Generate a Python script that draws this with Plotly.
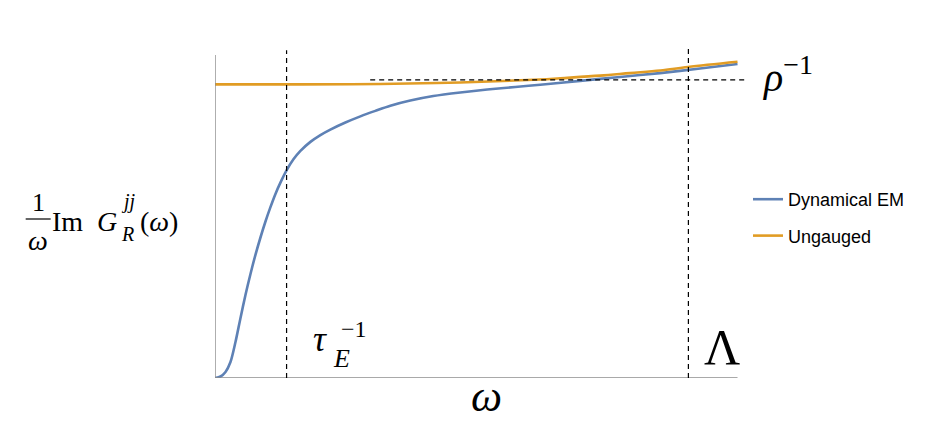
import plotly.graph_objects as go

# Schematic: (1/omega) Im G_R^jj(omega) against omega, dynamical EM vs ungauged.
# Values; omega in arbitrary units (axis end = 10).

omega_em = [0.0, 0.105, 0.201, 0.296, 0.392, 0.488, 0.583, 0.679, 0.774,
            0.870, 0.966, 1.061, 1.157, 1.252, 1.367, 1.501, 1.635, 1.826,
            2.017, 2.208, 2.495, 2.782, 3.069, 3.356, 3.738, 4.178, 4.694,
            5.210, 5.746, 6.224, 6.989, 7.753, 8.518, 9.283, 10.0]
resp_em = [0.0, 0.0046, 0.0186, 0.0495, 0.1115, 0.186, 0.257, 0.322, 0.381,
           0.435, 0.4845, 0.529, 0.570, 0.605, 0.642, 0.677, 0.703, 0.731,
           0.752, 0.769, 0.791, 0.810, 0.827, 0.843, 0.859, 0.873, 0.884,
           0.893, 0.901, 0.908, 0.920, 0.932, 0.944, 0.958, 0.972]

omega_ug = [0.0, 1.64, 3.16, 4.69, 6.22, 6.61, 7.37, 7.94, 8.52, 9.05, 10.0]
resp_ug = [0.909, 0.909, 0.910, 0.915, 0.924, 0.928, 0.936, 0.944, 0.952,
           0.963, 0.979]

tau_inv = 1.37     # vertical dashed line, tau_E^-1
cutoff = 9.06      # vertical dashed line, Lambda
rho_inv = 0.923    # horizontal dashed line, rho^-1
rho_from = 2.97    # where the rho^-1 guide starts
guide_top = [1.015, 1.019]

BLUE = "#5E81B5"
ORANGE = "#E19C24"
SERIF = "Liberation Serif"

# plot area in page pixels: x 214.5..748, y 47..378
L, R, T, B = 214.5, 748.0, 47.0, 378.0
OFF = 8  # the page body margin
W, H = 929 - OFF, 446 - OFF


def xp(px):
    return (px - L) / (R - L)


def yp(py):
    return (B - py) / (B - T)


fig = go.Figure()
fig.add_trace(go.Scatter(x=omega_em, y=resp_em, mode="lines", name="Dynamical EM",
                         line=dict(color=BLUE, width=2.6, shape="spline",
                                   smoothing=0.8),
                         legendgroup="a"))
fig.add_trace(go.Scatter(x=omega_ug, y=resp_ug, mode="lines", name="Ungauged",
                         line=dict(color=ORANGE, width=2.6, shape="spline"),
                         legendgroup="b"))

dash = dict(color="black", width=1.2, dash="5px,4px")
axis_line = dict(color="#8c8c8c", width=1.4)
shapes = [
    dict(type="line", xref="x", yref="y", x0=0, x1=10, y0=0, y1=0, line=axis_line),
    dict(type="line", xref="x", yref="y", x0=0, x1=0, y0=0, y1=1.0, line=axis_line),
    dict(type="line", xref="x", yref="y", x0=tau_inv, x1=tau_inv, y0=0,
         y1=guide_top[0], line=dash),
    dict(type="line", xref="x", yref="y", x0=cutoff, x1=cutoff, y0=0,
         y1=guide_top[1], line=dash),
    dict(type="line", xref="x", yref="y", x0=rho_from, x1=10.16, y0=rho_inv,
         y1=rho_inv, line=dash),
    # fraction bar of the y label
    dict(type="line", xref="paper", yref="paper", x0=xp(25), x1=xp(50),
         y0=yp(219), y1=yp(219), line=dict(color="black", width=1.2)),
]


def label(text, px, baseline, size, xanchor="left", italic=False):
    t = f"<i>{text}</i>" if italic else text
    return dict(text=t, xref="paper", yref="paper", x=xp(px),
                y=yp(baseline + 0.216 * size + 1), xanchor=xanchor,
                yanchor="bottom", showarrow=False,
                font=dict(family=SERIF, size=size, color="black"))


annotations = [
    label("<i>ρ</i><sup>−1</sup>", 760, 92, 40),
    label("τ", 311, 352, 36, italic=True),
    label("E", 331, 368, 26, italic=True),
    label("−1", 339, 338, 24),
    label("Λ", 722, 365, 50, xanchor="center"),
    label("ω", 486, 412, 44, xanchor="center", italic=True),
    label("1", 37.5, 212, 26, xanchor="center"),
    label("ω", 37.5, 251, 28, xanchor="center", italic=True),
    label("Im", 49, 232, 28),
    label("G", 94, 232, 28, italic=True),
    label("jj", 118, 210, 20, italic=True),
    label("R", 118, 242, 20, italic=True),
    label("(<i>ω</i>)", 137, 232, 28),
]

fig.update_layout(
    width=W, height=H,
    margin=dict(l=L - OFF, r=W - (R - OFF), t=T - OFF, b=H - (B - OFF), pad=0),
    plot_bgcolor="white", paper_bgcolor="white",
    shapes=shapes, annotations=annotations,
    showlegend=True,
    legend=dict(x=xp(748), y=yp(181), xanchor="left", yanchor="top",
                tracegroupgap=10, bgcolor="rgba(0,0,0,0)",
                font=dict(family="Liberation Sans", size=18, color="black")),
)
fig.update_xaxes(range=[0, 10 * (R - L) / (737.5 - L)], showgrid=False,
                 zeroline=False, showline=False, showticklabels=False, ticks="")
fig.update_yaxes(range=[0, (B - T) / 323.0], showgrid=False, zeroline=False,
                 showline=False, showticklabels=False, ticks="")

fig.write_html("out.html")
